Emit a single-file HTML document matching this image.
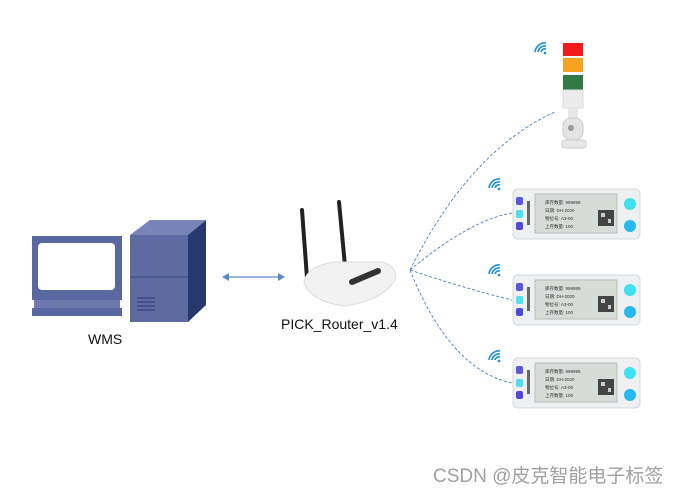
<!DOCTYPE html>
<html><head><meta charset="utf-8"><style>
body{margin:0;width:680px;height:491px;background:#fff;overflow:hidden;position:relative;font-family:"Liberation Sans","Noto Sans CJK SC",sans-serif}
.t{position:absolute;font-size:13px;color:#111;white-space:nowrap}
</style></head><body>
<svg width="680" height="491" style="position:absolute;left:0;top:0">
<defs>
<g id="tag">
<rect x="0" y="0" width="127" height="50" rx="5" fill="#eef0f2" stroke="#d4d8dc"/>
<rect x="3" y="8" width="7" height="8" rx="2" fill="#5b55e6"/>
<rect x="3" y="21" width="7" height="8" rx="2" fill="#4ee0ee"/>
<rect x="3" y="33" width="7" height="8" rx="2" fill="#5048e0"/>
<rect x="14" y="12" width="3" height="24" fill="#666"/>
<rect x="22" y="5" width="82" height="39" fill="#d8dcd9" stroke="#bbb"/>
<text x="32" y="15" font-size="4.5" fill="#333">库存数量: 999999</text>
<text x="32" y="23" font-size="4.5" fill="#333">日期: DH-2020</text>
<text x="32" y="31" font-size="4.5" fill="#333">物位号: A3-00</text>
<text x="32" y="39" font-size="4.5" fill="#333">上存数量: 100</text>
<rect x="85" y="21" width="16" height="16" fill="#444"/>
<rect x="88" y="24" width="4" height="4" fill="#ccc"/><rect x="95" y="30" width="3" height="4" fill="#ccc"/>
<circle cx="117" cy="15" r="6" fill="#3fe0f0"/>
<circle cx="117" cy="37" r="6" fill="#26b8f0"/>
</g>
<g id="wifi" fill="none" stroke="#1a8ee0" stroke-width="1.6">
<circle cx="0" cy="0" r="1.3" fill="#1a8ee0" stroke="none"/>
<path d="M-4 -1 A4 4 0 0 1 1 -4"/><path d="M-7 -1 A7 7 0 0 1 1 -7"/><path d="M-10 -1 A10 10 0 0 1 1 -10"/>
</g>
</defs>
<rect x="32" y="236" width="90" height="64" fill="#5a68a2"/>
<rect x="38" y="243" width="77" height="47" rx="4" fill="#fff"/>
<rect x="34" y="300" width="86" height="8" fill="#6c79ae"/>
<rect x="32" y="308" width="90" height="8" fill="#5a68a2"/>
<polygon points="130,235 150,220 206,220 188,235" fill="#7883b8"/>
<polygon points="188,235 206,220 206,305 188,322" fill="#26396e"/>
<rect x="130" y="235" width="58" height="87" fill="#5e6ba3"/>
<line x1="130" y1="277" x2="188" y2="277" stroke="#3a4a80"/>
<g stroke="#3b4b80" stroke-width="1.5"><line x1="137" y1="298" x2="155" y2="298"/><line x1="137" y1="302" x2="155" y2="302"/><line x1="137" y1="306" x2="155" y2="306"/><line x1="137" y1="310" x2="155" y2="310"/></g>
<line x1="226" y1="277" x2="281" y2="277" stroke="#5b8ac7" stroke-width="1.3"/>
<polygon points="222,277 229,273 229,281" fill="#5b8ac7"/><polygon points="285,277 278,273 278,281" fill="#5b8ac7"/>
<line x1="302" y1="210" x2="307" y2="278" stroke="#222" stroke-width="4" stroke-linecap="round"/>
<line x1="339" y1="202" x2="345" y2="266" stroke="#222" stroke-width="4" stroke-linecap="round"/>
<path d="M304 283 Q306 266 335 262 L382 262 Q396 266 396 278 Q385 300 345 306 Q312 302 304 283Z" fill="#f2f2f2" stroke="#ddd"/>
<path d="M352 282 L378 271" stroke="#333" stroke-width="6" stroke-linecap="round"/>
<g fill="none" stroke="#4a7fc4" stroke-width="0.9" stroke-dasharray="3,2">
<path d="M410 270 Q470 150 555 112"/>
<path d="M410 270 Q470 220 512 213"/>
<path d="M410 270 Q470 290 512 300"/>
<path d="M410 270 Q450 370 512 383"/>
</g>
<rect x="563" y="43" width="20" height="13" fill="#f21a1a"/>
<rect x="563" y="58" width="20" height="14" fill="#f5a320"/>
<rect x="563" y="75" width="20" height="15" fill="#2f7a45"/>
<rect x="563" y="90" width="20" height="18" fill="#ececec" stroke="#ddd"/>
<rect x="568" y="108" width="10" height="12" fill="#e8e8e8"/>
<rect x="563" y="118" width="20" height="22" rx="8" fill="#e4e4e4" stroke="#ccc"/>
<circle cx="571" cy="128" r="3" fill="#999"/>
<rect x="562" y="140" width="24" height="8" rx="3" fill="#e8e8e8" stroke="#ccc"/>
<use href="#wifi" x="545" y="53"/>
<use href="#wifi" x="499" y="189"/>
<use href="#wifi" x="499" y="275"/>
<use href="#wifi" x="499" y="361"/>
<use href="#tag" x="513" y="189"/>
<use href="#tag" x="513" y="275"/>
<use href="#tag" x="513" y="358"/>
</svg>
<div class="t" style="left:88px;top:331px;font-size:14px">WMS</div>
<div class="t" style="left:281px;top:316px;font-size:14px">PICK_Router_v1.4</div>
<div class="t" style="left:433px;top:461px;font-size:19px;color:#a0a0a0">CSDN @皮克智能电子标签</div>
</body></html>
